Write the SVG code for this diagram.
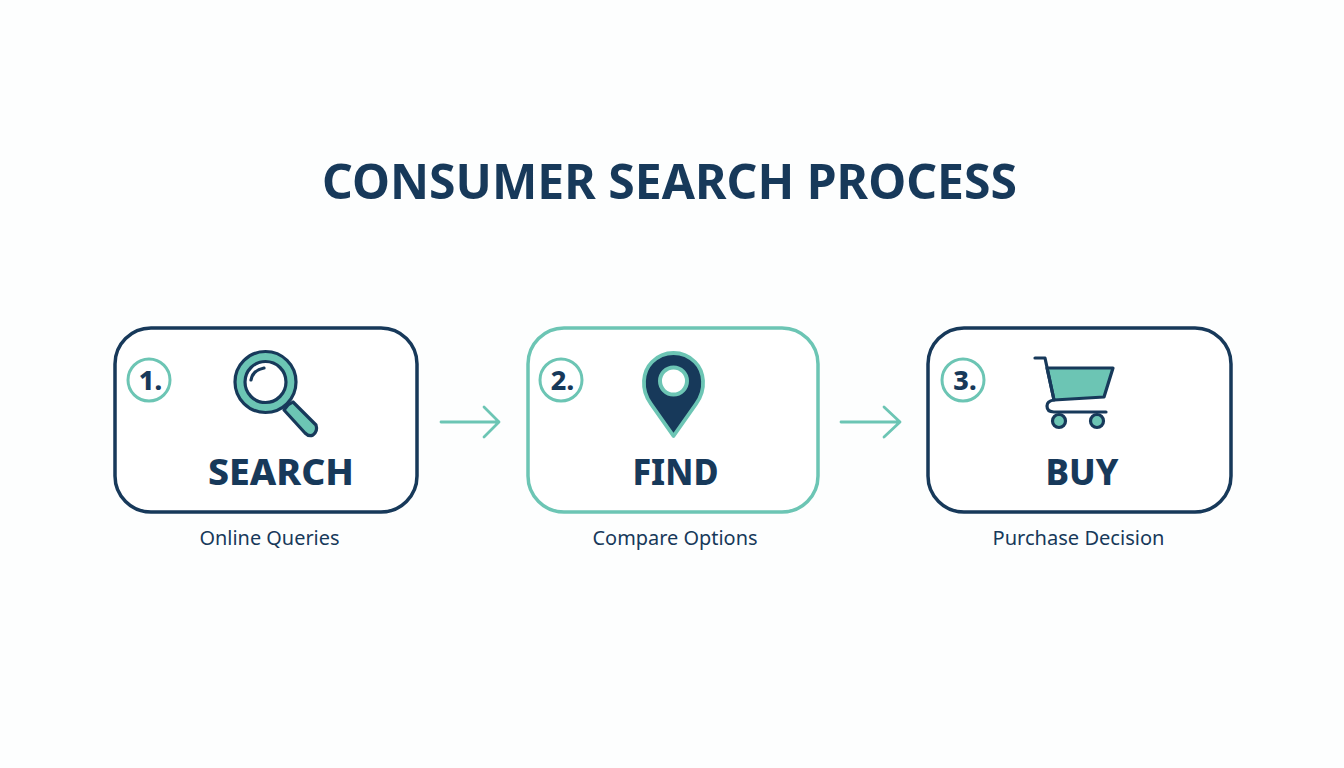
<svg xmlns="http://www.w3.org/2000/svg" width="1344" height="768" viewBox="0 0 1344 768">
<style>
text{font-family:"Noto Sans","Open Sans",sans-serif;fill:#17395a}
.title{font-size:49px;font-weight:700}
.name{font-size:36px;font-weight:800;text-anchor:middle}
.cap{font-size:20px;text-anchor:middle}
.num{font-size:27px;font-weight:800;text-anchor:middle}
.box{fill:#fff;stroke-width:3.5}
.navy{stroke:#17395a}
.teal{stroke:#6cc5b4}
.badge{fill:#fff;stroke:#6cc5b4;stroke-width:3}
.ico{stroke:#17395a;stroke-width:3.2;stroke-linejoin:round;stroke-linecap:round}
.arrow{fill:none;stroke:#6cc5b4;stroke-width:2.8;stroke-linecap:round;stroke-linejoin:round}
</style>
<rect width="1344" height="768" fill="#fdfefe"/>
<text id="title" class="title" x="322" y="198.500" textLength="695" lengthAdjust="spacingAndGlyphs">CONSUMER SEARCH PROCESS</text>
<g id="connectors">
<path class="arrow" d="M441 422H499M484 407L499 422L484 437"/>
<path class="arrow" d="M841 422H900M884 407L900 422L884 437"/>
</g>
<g id="node-search">
<rect class="box navy" x="115" y="328" width="302" height="184" rx="36"/>
<circle class="badge" cx="149" cy="380" r="21"/>
<text class="num" x="150.500" y="390">1.</text>
<path d="M288 405L293 402L316 425Q318 431 313 435Q309 437 305 433L284 410Z" fill="#6cc5b4" class="ico"/>
<circle cx="265.500" cy="382" r="30.500" fill="#6cc5b4" class="ico"/>
<circle cx="265.500" cy="382" r="20.500" fill="#fff" class="ico"/>
<path d="M251 380Q253 370 264 368" fill="none" class="ico"/>
<text class="name" x="281" y="485" textLength="146" lengthAdjust="spacingAndGlyphs">SEARCH</text>
<text class="cap" x="269.500" y="545" textLength="140" lengthAdjust="spacingAndGlyphs">Online Queries</text>
</g>
<g id="node-find">
<rect class="box teal" x="528" y="328" width="290" height="184" rx="36"/>
<circle class="badge" cx="561" cy="380" r="21"/>
<text class="num" x="562.500" y="390">2.</text>
<path d="M673.500 436L651 404C640 389 643 371 652 362C664 350 683 350 695 362C704 371 707 389 696 404Z" fill="#17395a" stroke="#6cc5b4" stroke-width="3.800" stroke-linejoin="round"/>
<circle cx="673.500" cy="381" r="13.500" fill="#fff" stroke="#6cc5b4" stroke-width="4"/>
<text class="name" x="675.500" y="485" textLength="86" lengthAdjust="spacingAndGlyphs">FIND</text>
<text class="cap" x="675" y="545" textLength="165" lengthAdjust="spacingAndGlyphs">Compare Options</text>
</g>
<g id="node-buy">
<rect class="box navy" x="928" y="328" width="303" height="184" rx="36"/>
<circle class="badge" cx="963" cy="380" r="21"/>
<text class="num" x="965" y="390">3.</text>
<path d="M1047 368H1113L1104 397L1054 400Z" fill="#6cc5b4" class="ico"/>
<path d="M1035 358H1045L1054 400Q1047 401 1047 406Q1047 412 1054 412H1106" fill="none" class="ico"/>
<circle cx="1059" cy="421" r="6.500" fill="#6cc5b4" class="ico"/>
<circle cx="1097" cy="421" r="6.500" fill="#6cc5b4" class="ico"/>
<text class="name" x="1082" y="485" textLength="73" lengthAdjust="spacingAndGlyphs">BUY</text>
<text class="cap" x="1078.500" y="545" textLength="172" lengthAdjust="spacingAndGlyphs">Purchase Decision</text>
</g>
</svg>
